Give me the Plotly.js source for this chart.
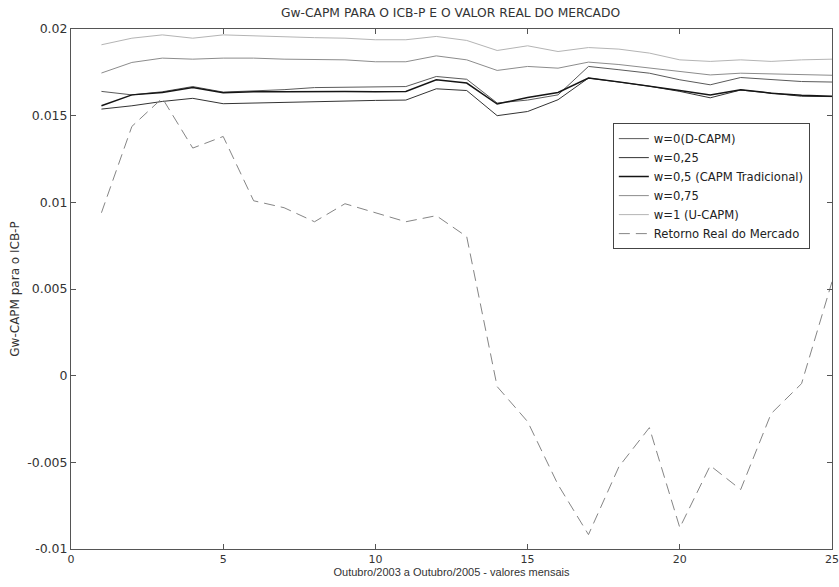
<!DOCTYPE html>
<html>
<head>
<meta charset="utf-8">
<script src="https://cdn.plot.ly/plotly-3.0.1.min.js"></script>
<style>html,body{margin:0;padding:0;background:#fff;}#chart{width:839px;height:587px;}</style>
</head>
<body>
<div id="chart"></div>
<script>
// Months 1..25 (Outubro/2003 a Outubro/2005)
const months = [1,2,3,4,5,6,7,8,9,10,11,12,13,14,15,16,17,18,19,20,21,22,23,24,25];

const seriesNames = ["w=0(D-CAPM)", "w=0,25", "w=0,5 (CAPM Tradicional)", "w=0,75", "w=1 (U-CAPM)", "Retorno Real do Mercado"];

const w0 = [0.0164,0.0162,0.01638,0.01668,0.01636,0.01641,0.0165,0.01662,0.01664,0.01665,0.01668,0.01726,0.0171,0.01573,0.0159,0.0162,0.01784,0.01765,0.01745,0.01707,0.01678,0.0172,0.01707,0.01697,0.01694];
const w025 = [0.01538,0.01557,0.01582,0.016,0.01569,0.01573,0.01578,0.01583,0.01586,0.01588,0.0159,0.01655,0.01645,0.015,0.01524,0.01592,0.01717,0.01693,0.0167,0.0164,0.01603,0.01648,0.01628,0.01612,0.0161];
const w05 = [0.01557,0.0162,0.01634,0.01662,0.01632,0.01638,0.01638,0.0164,0.0164,0.01638,0.0164,0.01707,0.01688,0.01567,0.01605,0.01634,0.01717,0.01695,0.01672,0.01645,0.0162,0.0165,0.0163,0.01618,0.01612];
const w075 = [0.01746,0.01807,0.01832,0.01826,0.01832,0.01832,0.01826,0.01822,0.01822,0.01811,0.01811,0.01845,0.01822,0.01761,0.01784,0.01774,0.01809,0.01795,0.01775,0.01755,0.01735,0.01745,0.0174,0.01735,0.01733];
const w1 = [0.01909,0.01947,0.01966,0.01947,0.01966,0.0196,0.01957,0.0195,0.01947,0.01938,0.01938,0.01957,0.01934,0.01876,0.01903,0.0187,0.01893,0.01884,0.01861,0.01822,0.01813,0.01822,0.01813,0.01822,0.01826];
const mercado = [0.0094,0.01438,0.01601,0.01313,0.0138,0.01009,0.00969,0.00888,0.00992,0.0094,0.00888,0.00923,0.00802,-0.00063,-0.00265,-0.00629,-0.00917,-0.00525,-0.003,-0.00877,-0.00519,-0.00657,-0.00219,-0.00046,0.00542];

const xTicks = [0,5,10,15,20,25];
const yTicks = [-0.01,-0.005,0,0.005,0.01,0.015,0.02];
const yTickText = ["-0.01","-0.005","0","0.005","0.01","0.015","0.02"];

const styles = [
  {color:'#5a5a5a', width:1},
  {color:'#333333', width:1},
  {color:'#151515', width:1.5},
  {color:'#8c8c8c', width:1},
  {color:'#b4b4b4', width:1},
  {color:'#858585', width:1, dash:'11px,6px'}
];
const ys = [w0, w025, w05, w075, w1, mercado];

const traces = ys.map((y,i) => ({
  x: months, y: y, type: 'scatter', mode: 'lines',
  name: seriesNames[i], line: styles[i]
}));

const DJ = 'DejaVu Sans, Verdana, sans-serif';
const LB = 'Liberation Sans, Arial, sans-serif';

const axisCommon = {
  showgrid:false, zeroline:false, showline:true, linecolor:'#555', linewidth:1,
  mirror:'ticks', ticks:'inside', ticklen:5, tickcolor:'#555'
};

const layout = {
  width:839, height:587,
  margin:{l:71, r:7, t:29, b:38, pad:0},
  paper_bgcolor:'#fff', plot_bgcolor:'#fff',
  font:{family:LB, size:11, color:'#333'},
  title:{text:'Gw-CAPM PARA O ICB-P E O VALOR REAL DO MERCADO', x:0.537, xanchor:'center', y:0.979, yanchor:'middle',
         font:{family:DJ, size:12.3, color:'#333'}},
  xaxis: Object.assign({}, axisCommon, {
    range:[0,25], tickvals:xTicks, ticktext:xTicks.map(String),
    tickfont:{family:DJ, size:11, color:'#333'},
    title:{text:'Outubro/2003 a Outubro/2005 - valores mensais', standoff:1,
           font:{family:LB, size:11, color:'#333'}}
  }),
  yaxis: Object.assign({}, axisCommon, {
    range:[-0.01,0.02], tickvals:yTicks, ticktext:yTickText,
    tickfont:{family:DJ, size:12.5, color:'#333'},
    title:{text:'Gw-CAPM para o ICB-P', standoff:5,
           font:{family:DJ, size:12, color:'#333'}}
  }),
  showlegend:true,
  legend:{x:0.712, y:0.819, xanchor:'left', yanchor:'top',
          bgcolor:'#fff', bordercolor:'#444', borderwidth:1,
          font:{family:DJ, size:11.6, color:'#222'},
          tracegroupgap:0, itemwidth:30}
};

Plotly.newPlot('chart', traces, layout, {displayModeBar:false, staticPlot:true});
</script>
</body>
</html>
